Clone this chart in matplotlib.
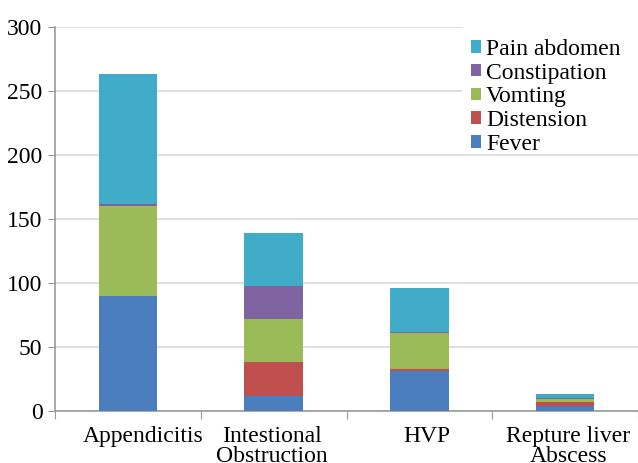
import matplotlib.pyplot as plt
import matplotlib.transforms as mtransforms
from matplotlib.patches import Rectangle
import numpy as np

plt.rcParams["font.family"] = ["Liberation Serif", "DejaVu Serif"]

categories = ["Appendicitis", "Intestional\nObstruction", "HVP", "Repture liver\nAbscess"]
fever = [90, 12, 31, 4]
distension = [0, 26, 2, 3]
vomting = [70, 34, 28, 2]
constipation = [2, 26, 1, 1]
pain_abdomen = [101, 41, 34, 3]

series = [
    ("Fever", fever, "#4A7EBF"),
    ("Distension", distension, "#C0504D"),
    ("Vomting", vomting, "#9BBB59"),
    ("Constipation", constipation, "#8064A2"),
    ("Pain abdomen", pain_abdomen, "#40ACC8"),
]

W, H = 638, 463
fig = plt.figure(figsize=(W / 100, H / 100), dpi=100)
ax = fig.add_axes([55 / W, 52 / H, 583 / W, 384 / H])

x = np.arange(len(categories)) + 0.5
bottom = np.zeros(len(categories))
handles = []
for name, vals, color in series:
    vals = np.array(vals, dtype=float)
    b = ax.bar(x, vals, width=0.4, bottom=bottom, color=color, label=name, zorder=3)
    handles.append(b)
    bottom += vals

ax.set_xlim(0, len(categories))
ax.set_ylim(0, 300)
ax.set_yticks(range(0, 301, 50))
ax.set_xticks(np.arange(len(categories) + 1))
ax.set_xticklabels([])
ax.set_xticks(x, minor=True)
ax.set_xticklabels(categories, minor=True, linespacing=0.95)
ax.tick_params(axis="x", which="minor", length=0, pad=11, labelsize=17)
ax.tick_params(axis="x", which="major", length=6, color="#999999", direction="out")
ax.tick_params(axis="y", length=5, color="#999999", labelsize=17, pad=4)

# nudge the category labels a little, as in the original
shifts = [15, -2, 8, 3]
for lab, dx in zip(ax.get_xticklabels(minor=True), shifts):
    lab.set_transform(lab.get_transform() + mtransforms.ScaledTranslation(dx / 100, 0, fig.dpi_scale_trans))

ax.grid(axis="y", color="#D9D9D9", linewidth=1.2, zorder=0)
for s in ["top", "right"]:
    ax.spines[s].set_visible(False)
for s in ["left", "bottom"]:
    ax.spines[s].set_color("#999999")
    ax.spines[s].set_linewidth(1.2)

# white block behind the legend hides the grid there
fig.patches.append(Rectangle((462 / W, 1 - 154 / H), 1 - 462 / W, 134 / H,
                             transform=fig.transFigure, facecolor="white",
                             edgecolor="none", zorder=4))

leg = fig.legend(
    handles[::-1],
    [s[0] for s in series][::-1],
    loc="upper left",
    bbox_to_anchor=(466 / W, 1 - 34 / H),
    fontsize=17,
    frameon=False,
    handlelength=0.45,
    handleheight=0.45,
    handletextpad=0.2,
    labelspacing=0.12,
    borderpad=0.2,
    borderaxespad=0,
)
leg.set_zorder(5)

fig.savefig("out.png", dpi=100)
